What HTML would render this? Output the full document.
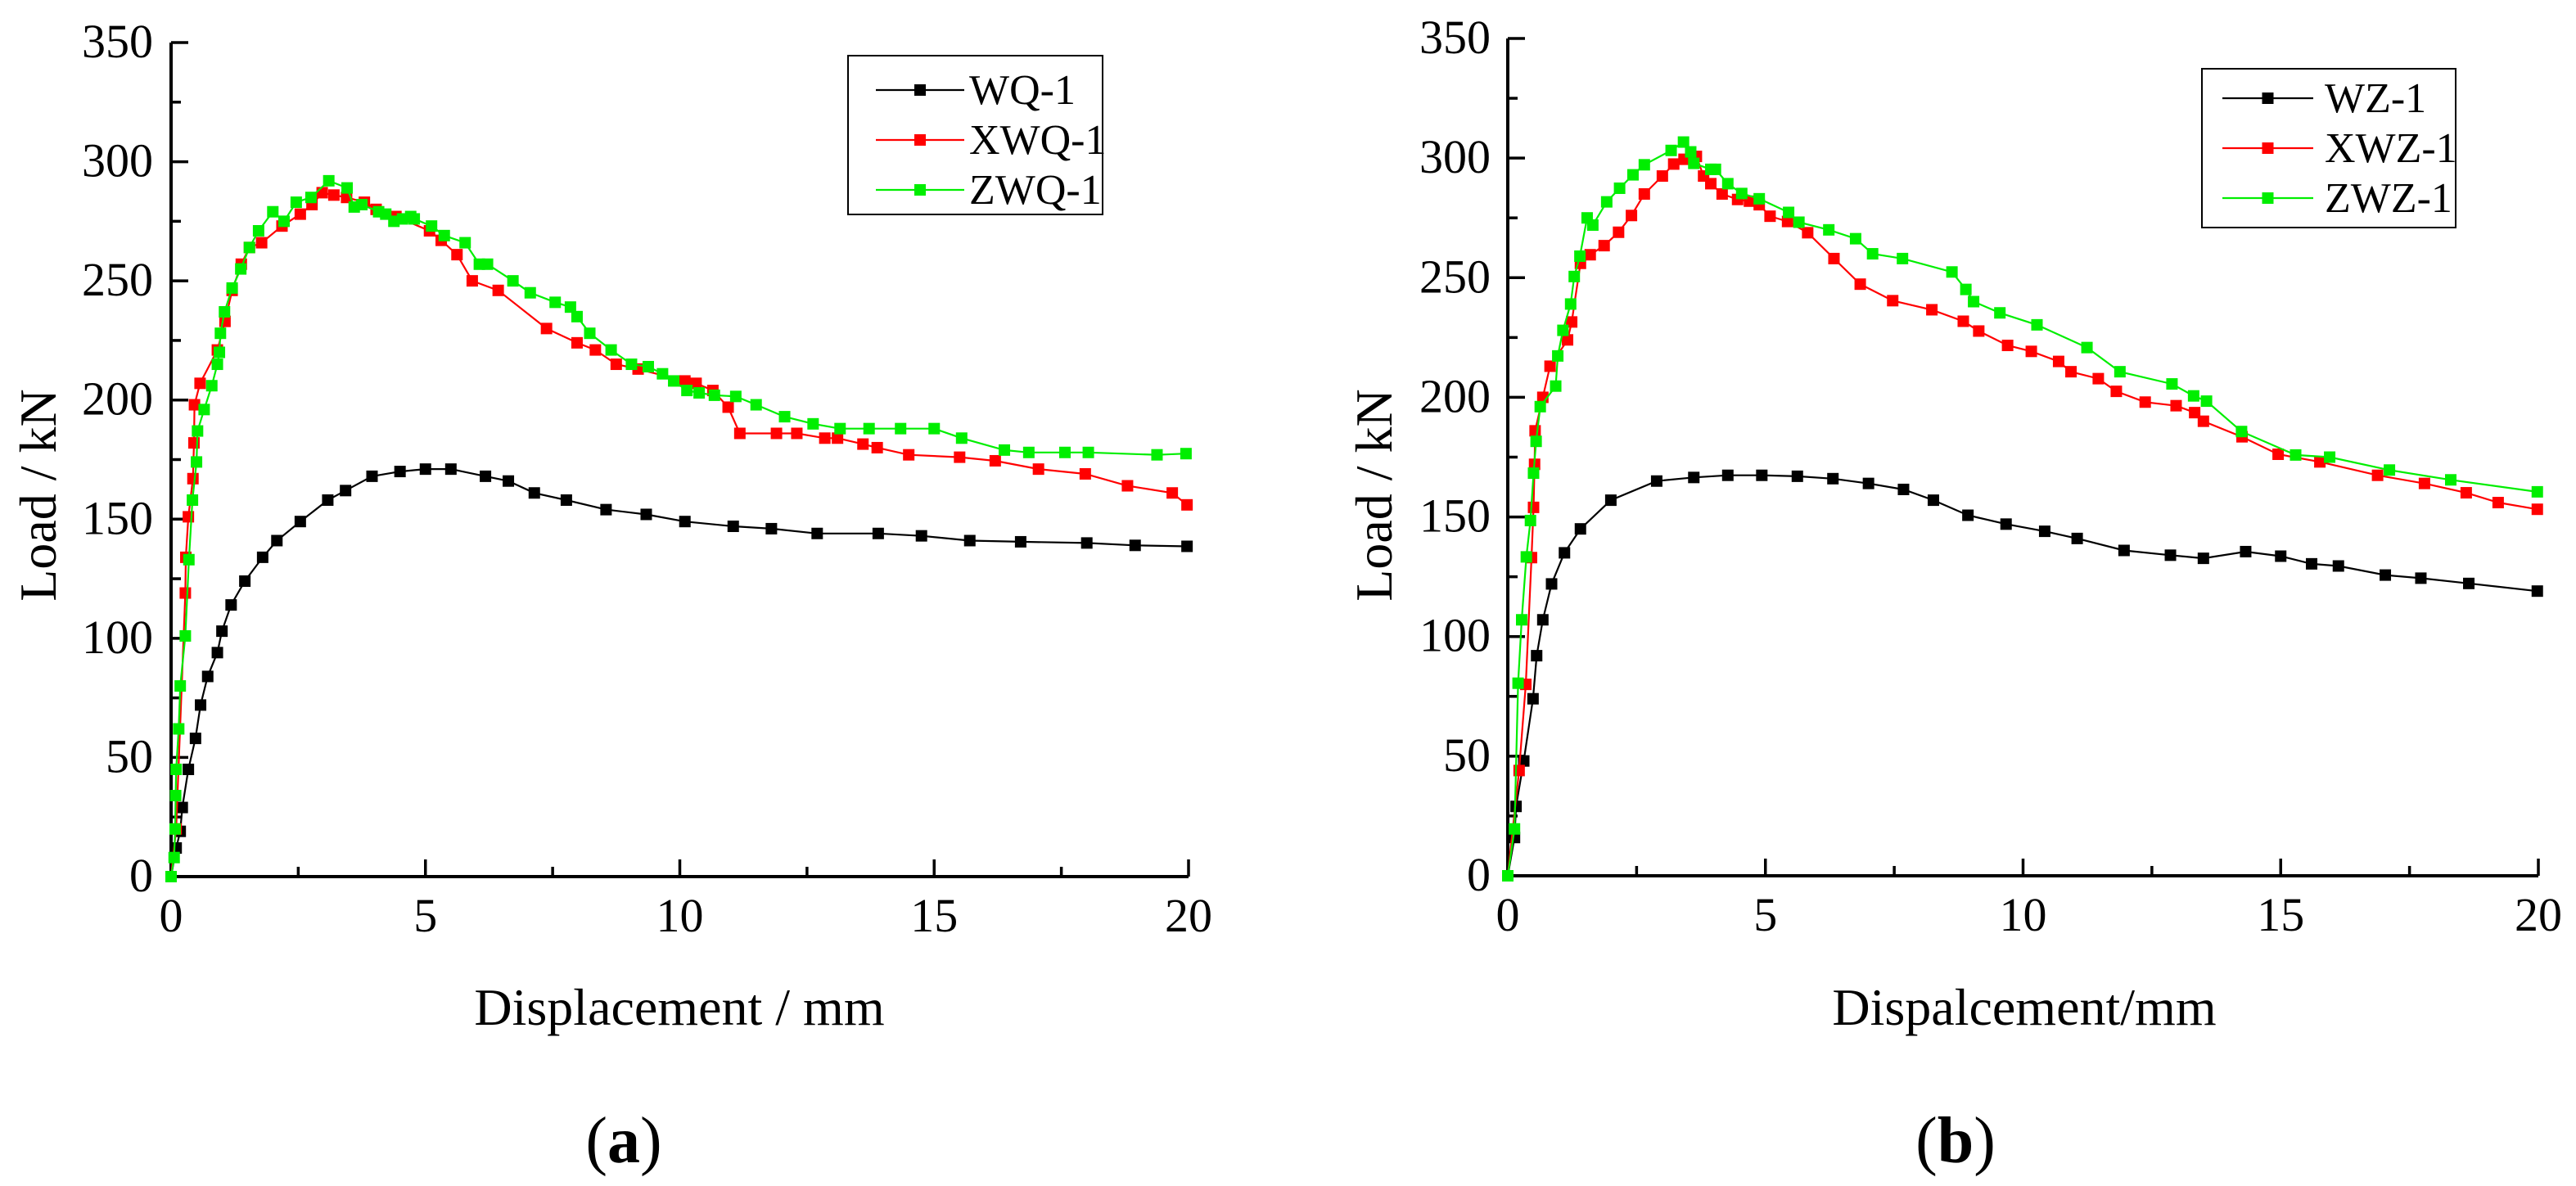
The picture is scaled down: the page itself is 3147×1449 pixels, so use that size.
<!DOCTYPE html>
<html><head><meta charset="utf-8"><style>
html,body{margin:0;padding:0;background:#fff;}
svg{display:block;}
svg text{font-family:"Liberation Serif","Times New Roman",serif;}
</style></head><body>
<svg id="fig" width="3147" height="1449" viewBox="0 0 3147 1449" xmlns="http://www.w3.org/2000/svg" font-family="Liberation Serif, serif">
<rect width="3147" height="1449" fill="#fff"/>
<g id="chartA"></g>
<g id="chartB"></g>
</svg>
<script>
const yTicks = [0,50,100,150,200,250,300,350];
const xTicks = [0,5,10,15,20];
// Chart (a)
const wq1X = [0,0.1,0.18,0.22,0.34,0.48,0.58,0.72,0.91,1.0,1.18,1.45,1.8,2.08,2.54,3.08,3.43,3.95,4.5,5.0,5.5,6.18,6.63,7.14,7.77,8.55,9.34,10.1,11.05,11.8,12.7,13.9,14.75,15.7,16.7,18.0,18.95,19.97];
const wq1Y = [0,12,19,29,45,58,72,84,94,103,114,124,134,141,149,158,162,168,170,171,171,168,166,161,158,154,152,149,147,146,144,144,143,141,140.5,140,139,138.6];
const xwq1X = [0,0.1,0.28,0.29,0.34,0.43,0.45,0.46,0.57,0.91,1.06,1.2,1.38,1.54,1.78,2.18,2.54,2.77,2.97,3.2,3.45,3.8,4.03,4.42,5.08,5.31,5.62,5.92,6.43,7.38,7.98,8.34,8.75,9.18,10.1,10.32,10.65,10.95,11.18,11.9,12.3,12.85,13.1,13.6,13.88,14.5,15.5,16.2,17.05,17.97,18.8,19.68,19.97];
const xwq1Y = [0,20,119,134,151,167,182,198,207,221,233,246,257,264,266,273,278,282,287,286,285,283,280,277,271,267,261,250,246,230,224,221,215,213,208,207,204,197,186,186,186,184,184,181.5,180,177,176,174.5,171,169,164,161,156];
const zwq1X = [0,0.06,0.08,0.09,0.1,0.15,0.18,0.28,0.35,0.42,0.5,0.52,0.65,0.8,0.91,0.95,0.97,1.05,1.2,1.37,1.54,1.72,2.0,2.22,2.46,2.75,3.1,3.46,3.6,3.75,4.08,4.22,4.38,4.55,4.71,4.78,5.12,5.37,5.78,6.06,6.22,6.72,7.06,7.55,7.85,7.98,8.23,8.65,9.05,9.38,9.66,9.88,10.14,10.38,10.68,11.1,11.5,12.06,12.62,13.15,13.72,14.34,15.0,15.54,16.38,16.86,17.57,18.03,19.38,19.95];
const zwq1Y = [0,8,20,34,45,62,80,101,133,158,174,187,196,206,215,220,228,237,247,255,264,271,279,275,283,285,292,289,281,282,279,278,275,276,277,276,273,269,266,257,257,250,245,241,239,235,228,221,215,214,211,208,204,203,202,201.5,198,193,190,188,188,188,188,184,179,178,178,178,177,177.5];
// Chart (b)
const wz1X = [0,0.13,0.16,0.31,0.49,0.56,0.68,0.85,1.1,1.41,2.0,2.89,3.61,4.27,4.93,5.62,6.31,7.0,7.68,8.26,8.93,9.67,10.42,11.05,11.96,12.86,13.5,14.32,15.0,15.6,16.12,17.03,17.72,18.65,19.98];
const wz1Y = [0,16,29,48,74,92,107,122,135,145,157,165,166.5,167.4,167.4,167,166,164,161.5,157,150.7,147,144,141,136,134,132.7,135.5,133.6,130.4,129.5,125.7,124.4,122.2,119];
const xwz1X = [0,0.22,0.35,0.46,0.5,0.52,0.53,0.68,0.82,1.16,1.24,1.41,1.6,1.87,2.15,2.4,2.65,3.0,3.22,3.42,3.66,3.8,3.94,4.16,4.46,4.69,4.88,5.09,5.43,5.82,6.33,6.84,7.47,8.23,8.84,9.14,9.7,10.16,10.69,10.93,11.46,11.81,12.37,12.97,13.33,13.5,14.25,14.95,15.76,16.88,17.79,18.6,19.22,19.98];
const xwz1Y = [0,44,80,133,154,172,186,200,213,224,231.5,256,259.6,263.4,269,276,285,292.5,297.5,299.5,300.7,292.5,289.3,285,282.7,282,280.5,275.7,273.5,268.8,258,247.3,240.4,236.6,231.8,227.7,221.7,219.2,215,210.7,207.8,202.5,198,196.5,193.6,190,183.5,176.2,173,167.4,164,160.1,156,153.2];
const zwz1X = [0,0.13,0.2,0.27,0.36,0.44,0.5,0.55,0.63,0.93,0.97,1.07,1.22,1.29,1.4,1.54,1.65,1.92,2.17,2.43,2.65,3.17,3.41,3.55,3.61,3.94,4.03,4.27,4.54,4.88,5.45,5.65,6.23,6.75,7.08,7.66,8.62,8.89,9.04,9.55,10.27,11.24,11.88,12.89,13.31,13.56,14.24,15.29,15.95,17.11,18.3,19.98];
const zwz1Y = [0,19.6,80.5,107,133.3,148.5,168.3,181.6,196.1,204.7,217.3,228,239,250.5,259,275,272,281.7,287.4,293,297.2,303.2,306.7,302.6,297.8,295.3,295.3,289.3,285.2,283,277.3,273.2,270,266.3,260,258,252.4,245.1,240,235.3,230.3,220.8,210.7,205.6,200.6,198.4,185.7,175.9,175,169.6,165.5,160.5];

const NS='http://www.w3.org/2000/svg';
const FF='Liberation Serif, Times New Roman, serif';
function mk(parent, tag, attrs){const e=document.createElementNS(NS,tag);for(const k in attrs)e.setAttribute(k,attrs[k]);if(tag==='text')e.setAttribute('font-family',FF);parent.appendChild(e);return e;}

function drawChart(g, cfg){
  const sx = v => cfg.x0 + (v/20)*(cfg.x1-cfg.x0);
  const sy = v => cfg.y0 - (v/350)*(cfg.y0-cfg.y1);
  const ax = mk(g,'path',{d:`M${cfg.x0},${sy(350)} L${cfg.x0},${cfg.y0} L${cfg.x1},${cfg.y0}`,fill:'none',stroke:'#000','stroke-width':4});
  
  
  for(let v=0; v<=350; v+=25){
    const major = v%50===0;
    const t = mk(g,'line',{x1:cfg.x0,x2:cfg.x0+(major?21:12),y1:sy(v),y2:sy(v),stroke:'#000','stroke-width':3.5});
    
    
  }
  yTicks.forEach(v=>{
    const t = mk(g,'text',{x:cfg.ylabX,y:sy(v)+18,'text-anchor':'end','font-size':58});
    t.textContent=v;
    
    
  });
  for(let v=0; v<=20; v+=2.5){
    const major = v%5===0;
    const t = mk(g,'line',{x1:sx(v),x2:sx(v),y1:cfg.y0,y2:cfg.y0-(major?21:12),stroke:'#000','stroke-width':3.5});
    
    
  }
  xTicks.forEach(v=>{
    const t = mk(g,'text',{x:sx(v),y:cfg.y0+67,'text-anchor':'middle','font-size':58});
    t.textContent=v;
    
    
  });
  const xt = mk(g,'text',{x:cfg.xtX,y:1252,'text-anchor':'middle','font-size':64});
  xt.textContent=cfg.xTitle;
  
  
  const yt = mk(g,'text',{x:0,y:0,'text-anchor':'middle','font-size':64,transform:`translate(${cfg.ytX},605) rotate(-90)`});
  yt.textContent='Load / kN';
  
  
  const pl = mk(g,'text',{x:cfg.plX,y:1420,'text-anchor':'middle','font-size':80});
  pl.innerHTML = '(<tspan font-weight="bold">'+cfg.panel+'</tspan>)';
  
  
  cfg.series.forEach(s=>{
    const sg = mk(g,'g',{});
    
    
    const pts = s.x.map((v,i)=>sx(v).toFixed(1)+','+sy(s.y[i]).toFixed(1)).join(' ');
    const ln = mk(sg,'polyline',{points:pts,fill:'none',stroke:s.color,'stroke-width':2.2});
    
    
    s.x.forEach((v,i)=>{
      const r = mk(sg,'rect',{x:sx(v)-7,y:sy(s.y[i])-7,width:14,height:14,fill:s.color});
      
      
    });
  });
  const lg = mk(g,'g',{});
  
  
  const L = cfg.legend;
  mk(lg,'rect',{x:L.x,y:L.y,width:L.w,height:L.h,fill:'#fff',stroke:'#000','stroke-width':2});
  cfg.series.forEach((s,i)=>{
    const ry = L.rows[i];
    const e = mk(lg,'g',{});
    
    
    mk(e,'line',{x1:L.lx1,x2:L.lx2,y1:ry,y2:ry,stroke:s.color,'stroke-width':2.2});
    mk(e,'rect',{x:(L.lx1+L.lx2)/2-7,y:ry-7,width:14,height:14,fill:s.color});
    const t = mk(e,'text',{x:L.tx,y:ry+17,'font-size':52});
    t.textContent=s.name;
  });
}

drawChart(document.getElementById('chartA'),{
  x0:209,x1:1452,y0:1071,y1:52,ylabX:187,xtX:830,ytX:68,plX:762,panel:'a',
  xTitle:'Displacement / mm',
  series:[{name:'WQ-1',x:wq1X,y:wq1Y,color:'#000'},{name:'XWQ-1',x:xwq1X,y:xwq1Y,color:'#ff0000'},{name:'ZWQ-1',x:zwq1X,y:zwq1Y,color:'#00ee00'}],
  legend:{x:1036,y:68,w:311,h:194,rows:[110,171,232],lx1:1070,lx2:1178,tx:1184}
});
drawChart(document.getElementById('chartB'),{
  x0:1842,x1:3101,y0:1070,y1:47,ylabX:1821,xtX:2473,ytX:1700,plX:2389,panel:'b',
  xTitle:'Dispalcement/mm',
  series:[{name:'WZ-1',x:wz1X,y:wz1Y,color:'#000'},{name:'XWZ-1',x:xwz1X,y:xwz1Y,color:'#ff0000'},{name:'ZWZ-1',x:zwz1X,y:zwz1Y,color:'#00ee00'}],
  legend:{x:2690,y:84,w:310,h:194,rows:[120,181,242],lx1:2715,lx2:2826,tx:2840}
});
</script>
</body></html>
